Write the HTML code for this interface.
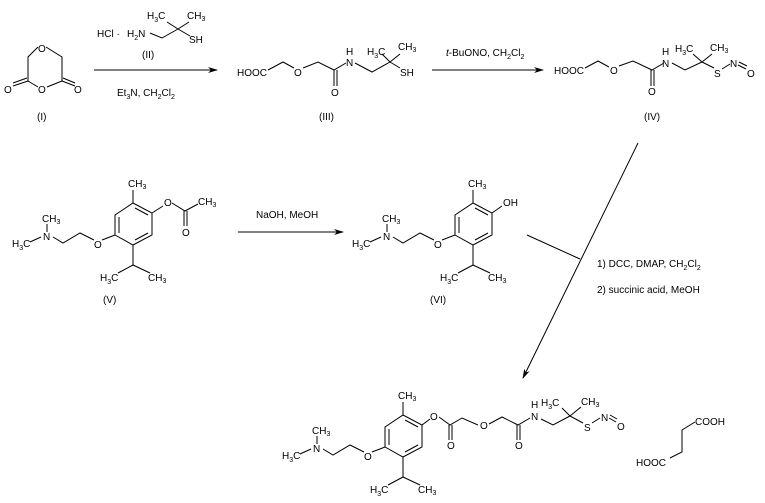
<!DOCTYPE html>
<html><head><meta charset="utf-8"><style>
html,body{margin:0;padding:0;background:#fff;}
svg{display:block;}
text{font-family:"Liberation Sans",sans-serif;font-size:10px;fill:#000;}
.s{font-size:7px;}
line,polyline{stroke:#000;stroke-width:1;fill:none;}
</style></head><body>
<svg width="765" height="503" viewBox="0 0 765 503">
<defs>
<marker id="ah" markerWidth="10" markerHeight="6" refX="9" refY="3" orient="auto" markerUnits="userSpaceOnUse"><path d="M0,0 L10,3 L0,6 L3,3 Z" fill="#000"/></marker>
<g id="core">
 <!-- dimethylaminoethoxy -->
 <text x="42" y="222">CH<tspan class="s" dy="2">3</tspan></text>
 <line x1="47" y1="224" x2="47" y2="232"/>
 <text x="43" y="240">N</text>
 <text x="12" y="247">H<tspan class="s" dy="3">3</tspan><tspan dy="-3">C</tspan></text>
 <line x1="30" y1="242" x2="41" y2="237"/>
 <polyline points="53,237 63,243 80,233 94,240"/>
 <text x="94" y="248">O</text>
 <line x1="102" y1="240" x2="115" y2="235"/>
 <!-- ring -->
 <polygon points="133,203 152,213 152,235 133,245 115,235 115,215" fill="none" stroke="#000"/>
 <line x1="119" y1="217" x2="119" y2="233"/>
 <line x1="135" y1="208" x2="148" y2="215"/>
 <line x1="135" y1="240" x2="148" y2="233"/>
 <line x1="133" y1="203" x2="133" y2="190"/>
 <text x="128" y="187">CH<tspan class="s" dy="2">3</tspan></text>
 <!-- isopropyl -->
 <line x1="133" y1="245" x2="133" y2="265"/>
 <line x1="133" y1="265" x2="118" y2="273"/>
 <line x1="133" y1="265" x2="150" y2="273"/>
 <text x="100" y="281">H<tspan class="s" dy="3">3</tspan><tspan dy="-3">C</tspan></text>
 <text x="148" y="281">CH<tspan class="s" dy="2">3</tspan></text>
</g>
</defs>

<!-- (I) -->
<polyline points="38,47 28,57 28,81 38,87"/>
<text x="38" y="52">O</text>
<polyline points="46,47 62,57 62,81 47,87"/>
<text x="38" y="93">O</text>
<line x1="28" y1="81" x2="13" y2="86"/><line x1="27" y1="78" x2="13" y2="83"/>
<text x="4" y="93">O</text>
<line x1="62" y1="81" x2="75" y2="86"/><line x1="63" y1="78" x2="75" y2="83"/>
<text x="74" y="93">O</text>
<text x="37" y="120">(I)</text>

<!-- arrow 1 + (II) -->
<line x1="94" y1="70" x2="217" y2="70" marker-end="url(#ah)"/>
<text x="97" y="37">HCl ·</text>
<text x="127" y="37">H<tspan class="s" dy="3">2</tspan><tspan dy="-3">N</tspan></text>
<polyline points="150,33 162,38 178,29"/>
<line x1="178" y1="29" x2="167" y2="22"/><line x1="178" y1="29" x2="189" y2="22"/><line x1="178" y1="29" x2="190" y2="36"/>
<text x="147" y="19">H<tspan class="s" dy="3">3</tspan><tspan dy="-3">C</tspan></text>
<text x="187" y="19">CH<tspan class="s" dy="2">3</tspan></text>
<text x="189" y="43">SH</text>
<text x="142" y="58">(II)</text>
<text x="117" y="96">Et<tspan class="s" dy="3">3</tspan><tspan dy="-3">N, CH</tspan><tspan class="s" dy="3">2</tspan><tspan dy="-3">Cl</tspan><tspan class="s" dy="3">2</tspan></text>

<!-- (III) -->
<text x="237" y="76">HOOC</text>
<polyline points="268,70 283,62 294,68"/>
<text x="294" y="76">O</text>
<polyline points="303,68 318,62 334,70 346,63"/>
<line x1="334" y1="70" x2="334" y2="86"/><line x1="337" y1="70" x2="337" y2="86"/>
<text x="331" y="96">O</text>
<text x="346" y="66">N</text><text x="346" y="55">H</text>
<polyline points="355,63 372,72 390,62"/>
<line x1="390" y1="62" x2="382" y2="54"/><line x1="390" y1="62" x2="400" y2="54"/><line x1="390" y1="62" x2="400" y2="68"/>
<text x="367" y="55">H<tspan class="s" dy="3">3</tspan><tspan dy="-3">C</tspan></text>
<text x="398" y="50">CH<tspan class="s" dy="2">3</tspan></text>
<text x="400" y="76">SH</text>
<text x="319" y="120">(III)</text>

<!-- arrow 2 -->
<line x1="432" y1="70" x2="543" y2="70" marker-end="url(#ah)"/>
<text x="446" y="56"><tspan font-style="italic">t</tspan>-BuONO, CH<tspan class="s" dy="3">2</tspan><tspan dy="-3">Cl</tspan><tspan class="s" dy="3">2</tspan></text>

<!-- (IV) -->
<text x="554" y="74">HOOC</text>
<polyline points="585,68 598,61 609,67"/>
<text x="610" y="74">O</text>
<polyline points="619,66 633,61 652,70 664,63"/>
<line x1="651" y1="70" x2="651" y2="86"/><line x1="654" y1="70" x2="654" y2="86"/>
<text x="648" y="95">O</text>
<text x="662" y="67">N</text><text x="662" y="55">H</text>
<polyline points="672,63 685,70 702,62"/>
<line x1="702" y1="62" x2="693" y2="54"/><line x1="702" y1="62" x2="712" y2="54"/><line x1="702" y1="62" x2="714" y2="68"/>
<text x="675" y="52">H<tspan class="s" dy="3">3</tspan><tspan dy="-3">C</tspan></text>
<text x="710" y="51">CH<tspan class="s" dy="2">3</tspan></text>
<text x="714" y="77">S</text>
<line x1="722" y1="69" x2="730" y2="64"/>
<text x="730" y="67">N</text>
<line x1="738" y1="65" x2="746" y2="69"/><line x1="739" y1="62" x2="747" y2="66"/>
<text x="747" y="77">O</text>
<text x="644" y="120">(IV)</text>

<!-- long arrow -->
<line x1="638" y1="143" x2="523" y2="378" marker-end="url(#ah)"/>
<line x1="527" y1="235" x2="580" y2="259"/>
<text x="597" y="267">1) DCC, DMAP, CH<tspan class="s" dy="3">2</tspan><tspan dy="-3">Cl</tspan><tspan class="s" dy="3">2</tspan></text>
<text x="597" y="293">2) succinic acid, MeOH</text>

<!-- (V) -->
<use href="#core"/>
<line x1="152" y1="213" x2="163" y2="206"/>
<text x="164" y="206">O</text>
<polyline points="172,203 185,211 198,204"/>
<line x1="184" y1="211" x2="184" y2="226"/><line x1="187" y1="211" x2="187" y2="226"/>
<text x="182" y="236">O</text>
<text x="198" y="205">CH<tspan class="s" dy="2">3</tspan></text>
<text x="103" y="303">(V)</text>

<!-- arrow 3 -->
<line x1="238" y1="232" x2="343" y2="232" marker-end="url(#ah)"/>
<text x="256" y="218">NaOH, MeOH</text>

<!-- (VI) -->
<use href="#core" transform="translate(340,0)"/>
<line x1="492" y1="213" x2="502" y2="206"/>
<text x="503" y="206">OH</text>
<text x="430" y="303">(VI)</text>

<!-- product -->
<use href="#core" transform="translate(270,212)"/>
<line x1="422" y1="425" x2="430" y2="419"/>
<text x="430" y="420">O</text>
<polyline points="439,417 450,425 462,418 478,425"/>
<line x1="449" y1="425" x2="449" y2="440"/><line x1="452" y1="425" x2="452" y2="440"/>
<text x="447" y="449">O</text>
<text x="480" y="429">O</text>
<polyline points="489,424 502,417 518,425 530,418"/>
<line x1="517" y1="425" x2="517" y2="440"/><line x1="520" y1="425" x2="520" y2="440"/>
<text x="515" y="449">O</text>
<text x="531" y="420">N</text><text x="531" y="408">H</text>
<polyline points="541,419 553,425 570,416"/>
<line x1="570" y1="416" x2="562" y2="408"/><line x1="570" y1="416" x2="581" y2="407"/><line x1="570" y1="416" x2="583" y2="423"/>
<text x="541" y="406">H<tspan class="s" dy="3">3</tspan><tspan dy="-3">C</tspan></text>
<text x="581" y="405">CH<tspan class="s" dy="2">3</tspan></text>
<text x="584" y="431">S</text>
<line x1="592" y1="423" x2="600" y2="418"/>
<text x="601" y="421">N</text>
<line x1="609" y1="418" x2="616" y2="422"/><line x1="610" y1="415" x2="617" y2="419"/>
<text x="617" y="430">O</text>

<!-- succinic acid -->
<text x="695" y="425">COOH</text>
<polyline points="695,422 682,430 682,452 670,458"/>
<text x="636" y="466">HOOC</text>
</svg>
</body></html>
